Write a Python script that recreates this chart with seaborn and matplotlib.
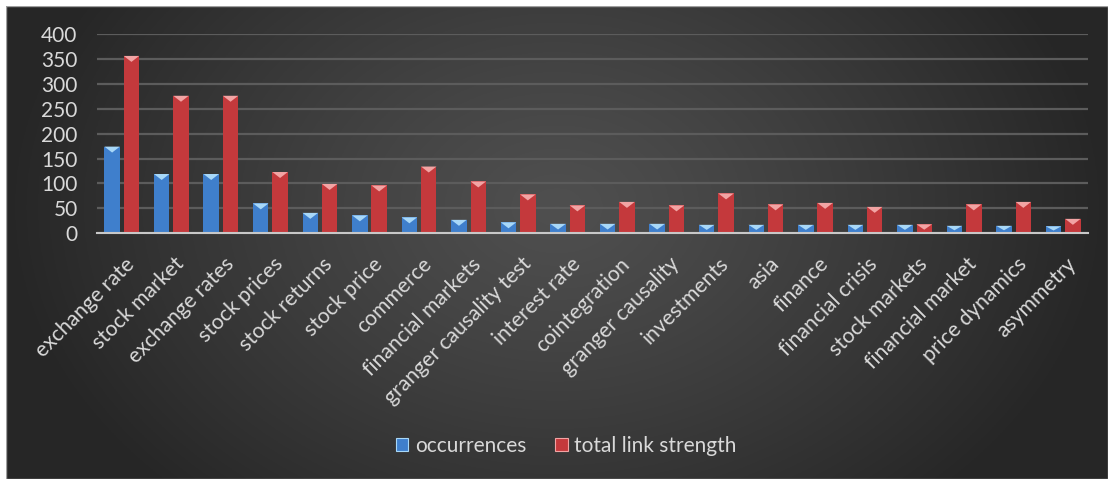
import numpy as np
import pandas as pd
import matplotlib
matplotlib.use("Agg")
import matplotlib.pyplot as plt
import matplotlib.transforms as mtransforms
from matplotlib.patches import Polygon, Rectangle
import seaborn as sns

keywords = ["exchange rate", "stock market", "exchange rates", "stock prices", "stock returns",
            "stock price", "commerce", "financial markets", "granger causality test", "interest rate",
            "cointegration", "granger causality", "investments", "asia", "finance",
            "financial crisis", "stock markets", "financial market", "price dynamics", "asymmetry"]
occurrences = [174, 119, 119, 60, 41, 36, 32, 27, 22, 19, 19, 19, 17, 17, 17, 17, 17, 15, 15, 14]
link_strength = [356, 276, 276, 123, 99, 96, 134, 104, 78, 56, 63, 56, 80, 58, 61, 53, 18, 58, 63, 29]
series_names = ["occurrences", "total link strength"]
y_ticks = [0, 50, 100, 150, 200, 250, 300, 350, 400]

df = pd.DataFrame({
    "keyword": keywords * 2,
    "value": occurrences + link_strength,
    "series": [series_names[0]] * len(keywords) + [series_names[1]] * len(keywords),
})

sns.set_theme(style="white")
plt.rcParams["font.family"] = ["Lato", "DejaVu Sans"]

W, H = 1108, 479
fig = plt.figure(figsize=(W / 100, H / 100), dpi=100)
fig.patch.set_facecolor("white")

# background gradient panel
bg = fig.add_axes([6 / W, 0, (W - 6) / W, (H - 6) / H])
bg.set_axis_off()
gx = np.linspace(-1, 1, 600)
gy = np.linspace(-1, 1, 300)
GX, GY = np.meshgrid(gx, gy)
r = np.sqrt(((GX - 0.0) / 1.0) ** 2 + ((GY - 0.15) / 1.7) ** 2)
r = np.clip(r, 0, 1)
val = 0.31 - 0.16 * r ** 1.2
img = np.dstack([val, val, val])
bg.imshow(img, aspect="auto", extent=[0, 1, 0, 1], origin="lower")
bg.set_xlim(0, 1)
bg.set_ylim(0, 1)
bg.add_patch(Rectangle((0, 0), 1, 1, fill=False, edgecolor="#a0a0a0", lw=1.0, transform=bg.transAxes))

ax = fig.add_axes([97 / W, (H - 233.3) / H, 991 / W, (233.3 - 34) / H])
ax.patch.set_alpha(0)

blue = "#3f7fcc"
red = "#c4393c"
sns.barplot(data=df, x="keyword", y="value", hue="series", palette=[blue, red],
            width=0.78, gap=0.2, ax=ax, legend=False, saturation=1, zorder=3)

light = {matplotlib.colors.to_hex(blue): "#a8d8f8", matplotlib.colors.to_hex(red): "#f2a4a4"}
for p in list(ax.patches):
    x0 = p.get_x()
    w = p.get_width()
    h = p.get_height()
    c = matplotlib.colors.to_hex(p.get_facecolor()[:3])
    p.set_edgecolor("none")
    d = min(12, h * 0.6)
    tri = Polygon([(x0, h), (x0 + w, h), (x0 + w / 2, h - d)], closed=True,
                  facecolor=light.get(c, "white"), edgecolor="none", zorder=4)
    ax.add_patch(tri)

ax.set_ylim(0, 400)
ax.set_xlim(-0.5, len(keywords) - 0.5)
ax.set_yticks(y_ticks)
ax.yaxis.grid(True, color="#5c5c5c", lw=1.6, zorder=0)
ax.set_axisbelow(True)
for s in ["top", "right", "left"]:
    ax.spines[s].set_visible(False)
ax.spines["bottom"].set_color("#c8c8c8")
ax.spines["bottom"].set_linewidth(1.5)
ax.spines["bottom"].set_zorder(5)
ax.set_xlabel("")
ax.set_ylabel("")
ax.tick_params(axis="y", length=0, pad=14, labelsize=15, labelcolor="#d9d9d9")
ax.tick_params(axis="x", length=0, pad=20, labelsize=15.2, labelcolor="#d9d9d9")
offset = mtransforms.ScaledTranslation(7 / 72, 0, fig.dpi_scale_trans)
for lbl in ax.get_xticklabels():
    lbl.set_rotation(45)
    lbl.set_ha("right")
    lbl.set_va("center")
    lbl.set_rotation_mode("anchor")
    lbl.set_transform(lbl.get_transform() + offset)

handles = [Rectangle((0, 0), 1, 1, facecolor=blue, edgecolor="#a8d8f8", lw=0.8),
           Rectangle((0, 0), 1, 1, facecolor=red, edgecolor="#f2a4a4", lw=0.8)]
leg = fig.legend(handles, series_names, loc="center", bbox_to_anchor=(0.511, 0.069), ncol=2,
                 frameon=False, fontsize=15, labelcolor="#d9d9d9", handlelength=0.6,
                 handleheight=0.6, handletextpad=0.3, columnspacing=1.4)

fig.savefig("out.png", dpi=100)
